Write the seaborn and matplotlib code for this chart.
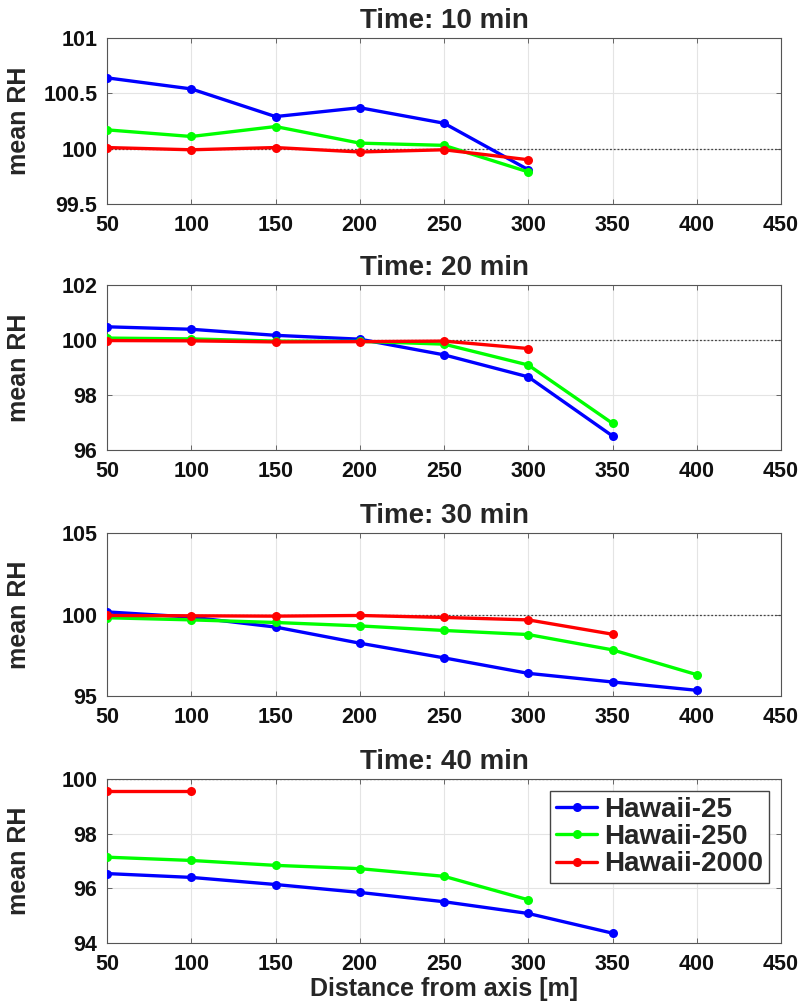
import matplotlib
matplotlib.use("Agg")
import matplotlib.pyplot as plt
import seaborn as sns
import pandas as pd
import numpy as np

sns.set_theme(style="whitegrid")
plt.rcParams['font.family'] = ['Liberation Sans', 'DejaVu Sans']
plt.rcParams['font.weight'] = 'bold'

series_names = ["Hawaii-25", "Hawaii-250", "Hawaii-2000"]
series_colors = ["#0000ff", "#00ff00", "#ff0000"]

times = ["Time: 10 min", "Time: 20 min", "Time: 30 min", "Time: 40 min"]

# Panel 1 (10 min)
dist_10 = [50, 100, 150, 200, 250, 300]
h25_10 = [100.64, 100.54, 100.29, 100.37, 100.23, 99.81]
h250_10 = [100.17, 100.11, 100.20, 100.05, 100.03, 99.79]
h2000_10 = [100.01, 99.99, 100.01, 99.97, 99.99, 99.90]

# Panel 2 (20 min)
dist_20_a = [50, 100, 150, 200, 250, 300, 350]
dist_20_b = [50, 100, 150, 200, 250, 300]
h25_20 = [100.48, 100.39, 100.17, 100.03, 99.46, 98.66, 96.51]
h250_20 = [100.07, 100.04, 99.96, 99.95, 99.85, 99.09, 96.97]
h2000_20 = [99.98, 99.97, 99.93, 99.94, 99.96, 99.69]

# Panel 3 (30 min)
dist_30_a = [50, 100, 150, 200, 250, 300, 350, 400]
dist_30_b = [50, 100, 150, 200, 250, 300, 350]
h25_30 = [100.16, 99.84, 99.23, 98.24, 97.34, 96.39, 95.86, 95.35]
h250_30 = [99.80, 99.67, 99.51, 99.30, 99.02, 98.77, 97.83, 96.31]
h2000_30 = [99.94, 99.92, 99.90, 99.94, 99.82, 99.67, 98.79]

# Panel 4 (40 min)
dist_40_25 = [50, 100, 150, 200, 250, 300, 350]
dist_40_250 = [50, 100, 150, 200, 250, 300]
dist_40_2000 = [50, 100]
h25_40 = [96.54, 96.40, 96.14, 95.85, 95.51, 95.08, 94.36]
h250_40 = [97.14, 97.02, 96.84, 96.72, 96.44, 95.58]
h2000_40 = [99.57, 99.57]

panels = [
    [(dist_10, h25_10), (dist_10, h250_10), (dist_10, h2000_10)],
    [(dist_20_a, h25_20), (dist_20_a, h250_20), (dist_20_b, h2000_20)],
    [(dist_30_a, h25_30), (dist_30_a, h250_30), (dist_30_b, h2000_30)],
    [(dist_40_25, h25_40), (dist_40_250, h250_40), (dist_40_2000, h2000_40)],
]
ylims = [(99.5, 101), (96, 102), (95, 105), (94, 100)]
yticks = [[99.5, 100, 100.5, 101], [96, 98, 100, 102], [95, 100, 105], [94, 96, 98, 100]]
ytick_labels = [["99.5", "100", "100.5", "101"], ["96", "98", "100", "102"],
                ["95", "100", "105"], ["94", "96", "98", "100"]]
xticks = [50, 100, 150, 200, 250, 300, 350, 400, 450]

fig = plt.figure(figsize=(8, 10.05), dpi=100)
W, H = 800, 1005
axes_px = [(38, 204), (285, 450), (533, 696), (779, 943)]
left_px, right_px = 107, 781

for i, (top, bot) in enumerate(axes_px):
    ax = fig.add_axes([left_px / W, 1 - bot / H, (right_px - left_px) / W, (bot - top) / H])
    rows = []
    for name, (xs, ys) in zip(series_names, panels[i]):
        for x, y in zip(xs, ys):
            rows.append({"dist": x, "RH": y, "run": name})
    df = pd.DataFrame(rows)
    sns.lineplot(data=df, x="dist", y="RH", hue="run", hue_order=series_names,
                 palette=series_colors, marker="o", markersize=6.5, markeredgewidth=0,
                 linewidth=2.4, ax=ax, legend=(i == 3), zorder=3)
    ax.axhline(100, color="#444444", linestyle=(0, (1.5, 1.5)), linewidth=0.9, zorder=2)
    ax.set_xlim(50, 450)
    ax.set_ylim(*ylims[i])
    ax.set_xticks(xticks)
    ax.set_xticklabels([str(t) for t in xticks], fontsize=15.5, fontweight='bold')
    ax.set_yticks(yticks[i])
    ax.set_yticklabels(ytick_labels[i], fontsize=15.5, fontweight='bold')
    ax.set_title(times[i], fontsize=20, fontweight='bold', pad=7)
    ax.set_ylabel("mean RH", fontsize=18, fontweight='bold')
    ax.yaxis.set_label_coords(-0.113, 0.5)
    if i == 3:
        ax.set_xlabel("Distance from axis [m]", fontsize=18, fontweight='bold', labelpad=1)
        leg = ax.legend(loc="upper right", fontsize=20, frameon=True, fancybox=False,
                        handlelength=1.5, handletextpad=0.25, borderpad=0.2,
                        labelspacing=0.05, borderaxespad=0,
                        bbox_to_anchor=(0.982, 0.927))
        leg.get_frame().set_edgecolor("#444444")
        leg.get_frame().set_linewidth(1.0)
        leg.get_frame().set_alpha(1)
        for t in leg.get_texts():
            t.set_fontweight('bold')
    else:
        ax.set_xlabel("")
    ax.set_facecolor("white")
    ax.grid(True, color="#e4e4e4", linewidth=0.8)
    for s in ax.spines.values():
        s.set_visible(True)
        s.set_color("#555555")
        s.set_linewidth(0.8)
    ax.tick_params(axis='both', direction='in', length=3.5, width=0.7, color="#666666",
                   top=True, right=True, bottom=True, left=True, labelcolor="#111111")
    ax.tick_params(axis='x', pad=8)
    ax.tick_params(axis='y', pad=7)

fig.savefig("out.png", dpi=100, facecolor="white")
